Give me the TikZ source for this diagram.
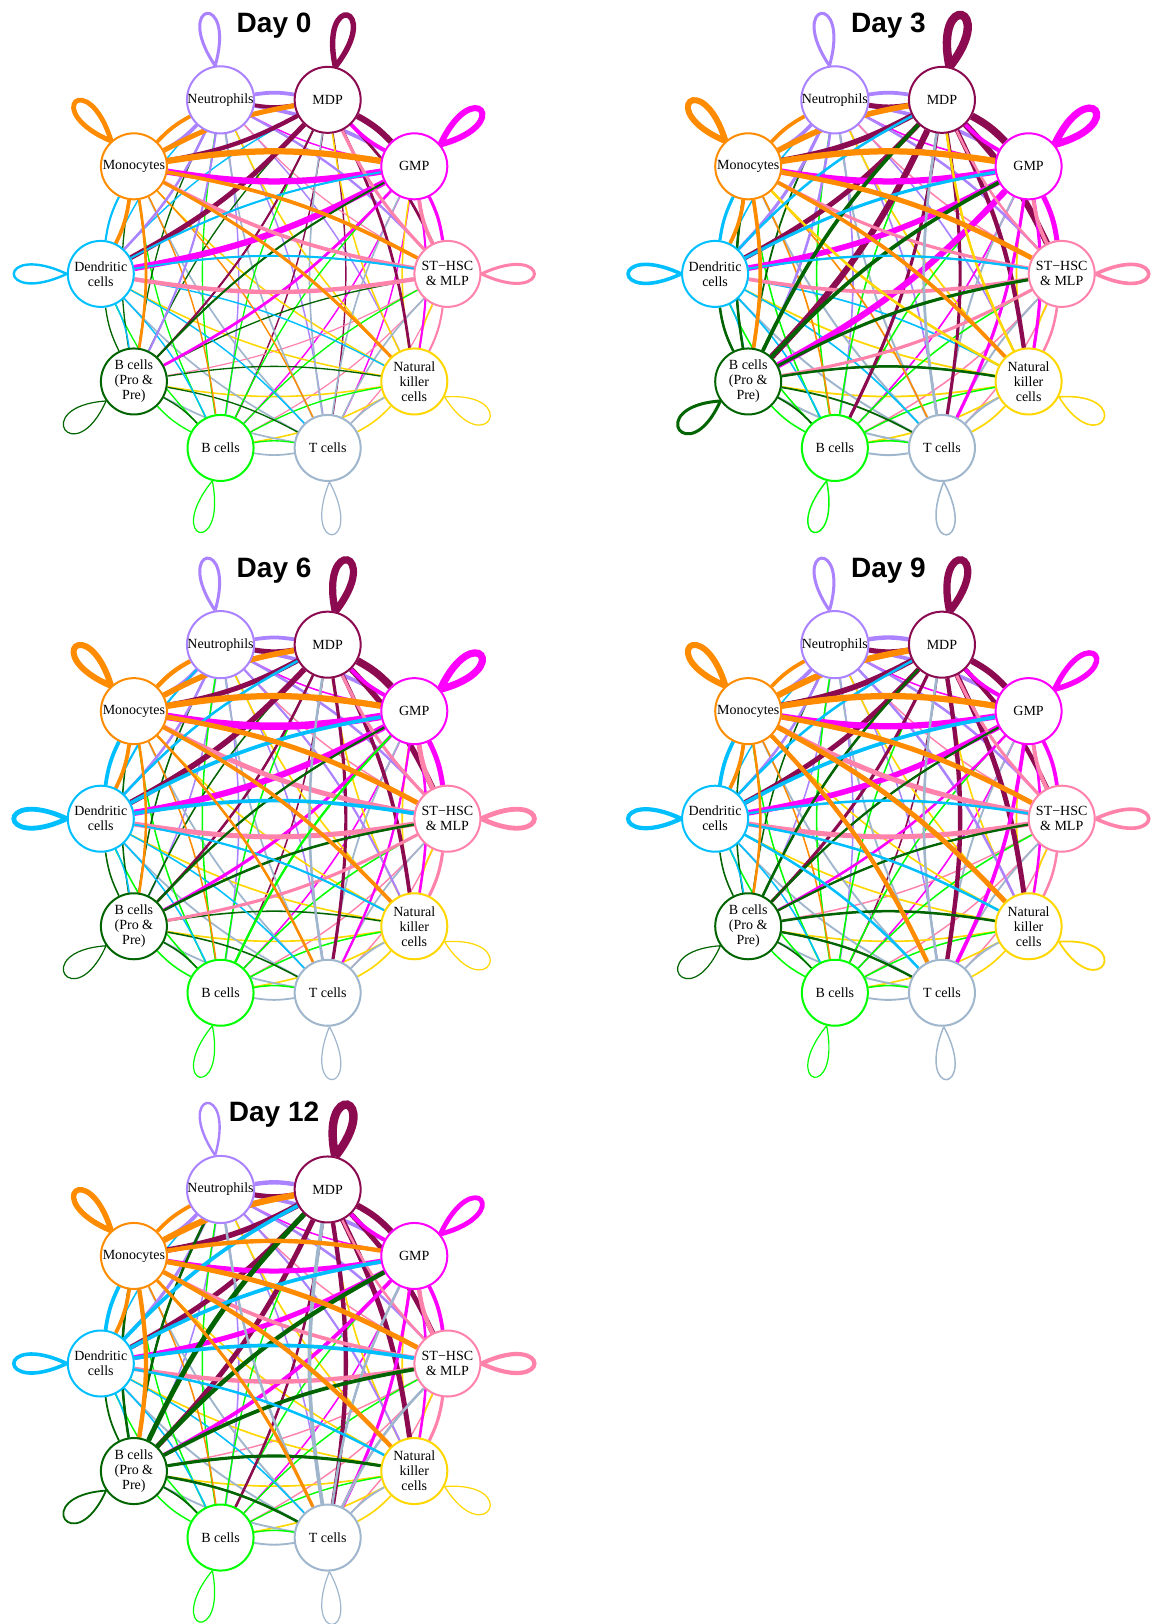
\documentclass[tikz,border=0pt]{standalone}
\usepackage{fontspec}
\setmainfont{Liberation Serif}
\newfontfamily\titlefont{Liberation Sans}
\pgfdeclarelayer{canvas}
\pgfdeclarelayer{background}
\pgfsetlayers{canvas,background,main}

% cell-type colours
\definecolor{col1}{HTML}{AB82FF}  % Neutrophils
\definecolor{col2}{HTML}{8B0A50}  % MDP
\definecolor{col3}{HTML}{FF00FF}  % GMP
\definecolor{col4}{HTML}{FF82AB}  % ST-HSC & MLP
\definecolor{col5}{HTML}{FFD700}  % Natural killer cells
\definecolor{col6}{HTML}{9FB6CD}  % T cells
\definecolor{col7}{HTML}{00FF00}  % B cells
\definecolor{col8}{HTML}{006400}  % B cells (Pro & Pre)
\definecolor{col9}{HTML}{00BFFF}  % Dendritic cells
\definecolor{col10}{HTML}{FF8C00} % Monocytes

\tikzset{
  cell/.style={circle, minimum size=66pt, inner sep=0pt, line width=2pt,
    fill=white, align=center, text=black, font=\fontsize{14}{15}\selectfont},
  link/.style={bend left=9},
  ttl/.style={anchor=base, font=\titlefont\bfseries\fontsize{28}{30}\selectfont}
}

% #1 prefix, #2/#3 centre, #4 title, #5 source/base width,
% #6 node/self-loop width, #7 source/target/width of stronger links
\newcommand{\cellpanel}[7]{%
\begin{scope}[shift={(#2,#3)}]
  \node[ttl] (#1-t) at (0,241.6) {#4};
  \node[cell,draw=col1]  (#1-1)  at ({173.3*cos(108)},{183*sin(108)})   {Neutrophils};
  \node[cell,draw=col2]  (#1-2)  at ({173.3*cos(72)},{183*sin(72)})     {MDP};
  \node[cell,draw=col3]  (#1-3)  at ({173.3*cos(36)},{183*sin(36)})     {GMP};
  \node[cell,draw=col4]  (#1-4)  at (173.3,0)                           {ST−HSC\\\& MLP};
  \node[cell,draw=col5]  (#1-5)  at ({173.3*cos(-36)},{183*sin(-36)})   {Natural\\killer\\cells};
  \node[cell,draw=col6]  (#1-6)  at ({173.3*cos(-72)},{183*sin(-72)})   {T cells};
  \node[cell,draw=col7]  (#1-7)  at ({173.3*cos(-108)},{183*sin(-108)}) {B cells};
  \node[cell,draw=col8]  (#1-8)  at ({173.3*cos(-144)},{183*sin(-144)}) {B cells\\(Pro \&\\Pre)};
  \node[cell,draw=col9]  (#1-9)  at (-173.3,0)                          {Dendritic\\cells};
  \node[cell,draw=col10] (#1-10) at ({173.3*cos(144)},{183*sin(144)})   {Monocytes};
  \begin{pgfonlayer}{background}
    % every directed link, thin
    \foreach \i/\w in {#5}{
      \pgfmathsetmacro\ww{\w*1.1}
      \foreach \j in {1,...,10}{
        \ifnum\i=\j\relax\else
          \draw[link,draw=col\i,line width=\ww pt] (#1-\i) to (#1-\j);
        \fi
      }
    }
    % stronger links
    \foreach \i/\j/\w in {#7}{
      \pgfmathsetmacro\ww{\w*1.25}
      \draw[link,draw=col\i,line width=\ww pt] (#1-\i) to (#1-\j);
    }
    % self-loops: teardrops leaving the rim of each cell
    \foreach \i/\w in {#6}{
      \pgfmathsetmacro\ww{\w*1.2}
      \pgfmathsetmacro\la{{99,77,40,0,-27,-87,-104,-145,180,132}[\i-1]}
      \pgfmathsetmacro\ls{{25,25,25,25,31,25,25,31,25,25}[\i-1]}
      \draw[draw=col\i,line width=\ww pt] (#1-\i.\la)
        .. controls +({\la+\ls}:78) and +({\la-\ls}:78) .. (#1-\i.\la);
    }
  \end{pgfonlayer}
\end{scope}}

\begin{document}
\begin{tikzpicture}[x=1pt,y=1pt]
\useasboundingbox (0,0) rectangle (1157,-1624);
\begin{pgfonlayer}{canvas}
  \fill[white] (0,0) rectangle (1157,-1624);
\end{pgfonlayer}

% Day 0
\cellpanel{da}{274.1}{-273.9}{Day 0}
 {1/1.3,2/1.3,3/1.3,4/1.1,5/1.4,6/1.5,7/1.2,8/1.2,9/1.3,10/1.3}
 {1/2.5,2/4.5,3/5,4/2.5,5/1,6/1,7/1,8/1,9/2,10/4}
 {1/2/3,1/3/3,1/10/3,1/9/2,1/8/1.6,1/4/1.8,
  2/1/3,2/3/5,2/10/3.5,2/9/4,2/4/2.2,2/5/2.2,2/8/1.6,
  3/10/5,3/9/5,3/4/2.5,3/2/3,3/8/2.2,3/5/1.6,
  4/9/3.5,4/10/3,4/3/3,4/2/2.5,4/5/1.6,
  8/3/1.6,
  9/4/1.6,9/3/1.6,9/10/1.6,
  10/3/5,10/2/4,10/1/3,10/4/3,10/5/2.5,10/9/3,10/8/2.2}

% Day 3
\cellpanel{db}{888.4}{-273.9}{Day 3}
 {1/1.5,2/1.5,3/1.5,4/1.4,5/1.6,6/1.8,7/1.4,8/1.6,9/1.5,10/1.5}
 {1/2.5,2/7,3/6,4/3,5/1.3,6/1.3,7/1.2,8/2.5,9/3,10/5}
 {1/2/3,1/3/3,1/10/3,1/9/2.5,1/4/2,1/8/2,
  2/1/4,2/3/6,2/4/5,2/5/3.5,2/10/4.5,2/9/4,2/8/5,2/7/2.5,2/6/2.5,
  3/10/5,3/9/4.5,3/8/5,3/4/4,3/2/3,3/5/2.5,3/6/2.5,
  4/9/3,4/10/2.5,4/3/3,4/8/2.5,4/5/2,4/2/2,
  5/10/2,5/2/2,
  6/2/2.2,
  8/3/3,8/2/3,8/4/2.5,8/5/2,8/10/2,8/9/2,
  9/3/2.5,9/2/2,9/10/2.5,9/4/1.8,
  10/3/5,10/2/4.5,10/1/3,10/4/4,10/5/3,10/9/3,10/8/3}

% Day 6
\cellpanel{dc}{274.1}{-818.7}{Day 6}
 {1/1.4,2/1.4,3/1.4,4/1.3,5/1.5,6/1.6,7/1.4,8/1.4,9/1.4,10/1.4}
 {1/2.5,2/6,3/6,4/4,5/1,6/1,7/1,8/1,9/4,10/5}
 {1/2/3,1/3/3,1/10/3,1/9/2,1/4/2,1/5/1.6,
  2/1/4,2/3/6,2/4/4.5,2/5/3,2/10/4,2/9/4.5,2/8/2,2/6/2.5,
  3/10/6,3/9/5,3/4/4,3/2/3,3/8/2.5,3/5/2,3/6/1.8,
  4/9/4,4/10/4,4/3/4,4/2/2.5,4/8/2.5,4/5/2.5,
  6/2/2,
  7/3/1.8,
  8/4/2,8/3/1.8,
  9/4/3,9/3/3,9/2/2,9/10/3,9/1/1.6,9/5/1.6,
  10/3/5,10/2/4.5,10/1/3.5,10/4/4,10/5/3,10/9/3,10/8/2,10/6/2}

% Day 9
\cellpanel{dd}{888.4}{-818.7}{Day 9}
 {1/1.4,2/1.4,3/1.4,4/1.3,5/1.5,6/1.7,7/1.4,8/1.4,9/1.4,10/1.4}
 {1/2.5,2/6,3/4.5,4/3,5/1.5,6/1.2,7/1,8/1,9/3.5,10/5}
 {1/2/3.5,1/3/3,1/10/3,1/9/2,1/4/2,1/5/2,
  2/1/4,2/3/5,2/4/3.5,2/5/4,2/10/4.5,2/9/4,2/8/2.5,2/6/3.5,
  3/10/5,3/9/4.5,3/4/3,3/2/3,3/8/2,3/6/3,3/5/2,
  4/9/4,4/10/4,4/3/3,4/2/2.5,4/5/2,
  6/2/2,
  8/2/2,8/3/1.8,8/4/1.8,8/5/2,8/6/1.8,
  9/4/2,9/3/3,9/2/2,9/10/3,9/5/2,9/6/2,
  10/3/5,10/2/5,10/1/3,10/4/4,10/5/4,10/6/3.5,10/9/3,10/8/2}

% Day 12
\cellpanel{de}{274.1}{-1363.5}{Day 12}
 {1/1.4,2/1.4,3/1.4,4/1.3,5/1.5,6/1.7,7/1.3,8/1.6,9/1.4,10/1.4}
 {1/2,2/7,3/4,4/3.5,5/1,6/1,7/1,8/1.5,9/3,10/4.5}
 {1/2/3.5,1/3/3,1/10/3,1/9/2.5,1/4/2,1/5/1.6,
  2/1/4,2/3/5,2/4/4,2/5/4,2/10/4.5,2/9/4,2/8/4,2/6/3.5,2/7/2,
  3/10/4,3/9/4,3/4/3,3/2/3,3/8/3,3/6/2.5,3/5/2,
  4/9/3.5,4/10/3,4/3/3.5,4/5/2.5,4/2/2,
  6/2/3,6/3/2,6/4/2,6/1/2,
  8/2/4,8/3/3.5,8/4/3,8/5/2.5,8/1/2,8/10/2,8/6/2,
  9/4/3,9/3/3,9/2/3,9/10/3,9/5/2,
  10/3/3.5,10/2/5,10/1/3,10/4/4,10/5/3.5,10/6/2.5,10/9/3,10/8/3.5}
\end{tikzpicture}
\end{document}
